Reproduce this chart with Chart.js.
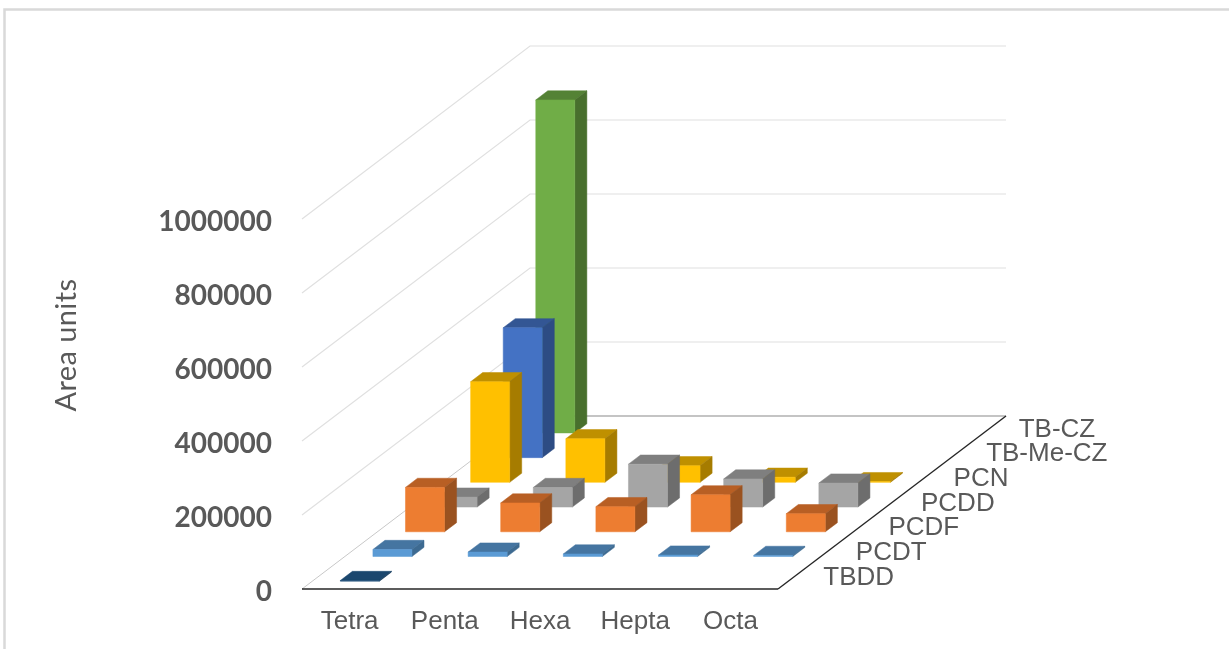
<!DOCTYPE html>
<html>
<head>
<meta charset="utf-8">
<title>Area units by homologue group</title>
<script src="https://cdn.jsdelivr.net/npm/chart.js@4/dist/chart.umd.js"></script>
<style>
  html, body { margin: 0; padding: 0; background: #fff; overflow: hidden; }
  #wrap { width: 1229px; height: 649px; }
</style>
</head>
<body>
<div id="wrap"><canvas id="chart3d" width="1229" height="649"></canvas></div>
<script>
const groups = ['Tetra', 'Penta', 'Hexa', 'Hepta', 'Octa'];
const seriesNames = ['TBDD', 'PCDT', 'PCDF', 'PCDD', 'PCN', 'TB-Me-CZ', 'TB-CZ'];

// one array per series, front row first; null means no bar in that slot
const tbdd = [2000, null, null, null, null];
const pcdt = [19000, 12000, 7000, 4000, 3000];
const pcdf = [120000, 78000, 68000, 100000, 49000];
const pcdd = [27000, 53000, 116000, 76000, 65000];
const pcn = [272000, 118000, 45000, 14000, 2000];
const tbMeCz = [351000, null, null, null, null];
const tbCz = [900000, null, null, null, null];
const seriesValues = [tbdd, pcdt, pcdf, pcdd, pcn, tbMeCz, tbCz];

const frontColors = ['#1f4e79', '#5b9bd5', '#ed7d31', '#a5a5a5', '#ffc000', '#4472c4', '#70ad47'];
const topColors = ['#1b476e', '#4575a1', '#b85f24', '#7f7f7f', '#bf9000', '#335694', '#548235'];
const sideColors = ['#163b5c', '#3d6a91', '#9a5220', '#6d6d6d', '#a67c00', '#2d4c84', '#486f2d'];

// oblique projection of the floor: how far one series row shifts a point
const ROW_DX = 228 / seriesNames.length;
const ROW_DY = -173 / seriesNames.length;
const BAR_DEPTH = 0.37; // bar depth as a share of a row

function poly(ctx, pts, color) {
  ctx.beginPath();
  pts.forEach((p, i) => (i ? ctx.lineTo(p[0], p[1]) : ctx.moveTo(p[0], p[1])));
  ctx.closePath();
  ctx.fillStyle = color;
  ctx.fill();
  ctx.strokeStyle = color;
  ctx.lineWidth = 0.5;
  ctx.stroke();
}

function line(ctx, pts, color, width) {
  ctx.beginPath();
  pts.forEach((p, i) => (i ? ctx.lineTo(p[0], p[1]) : ctx.moveTo(p[0], p[1])));
  ctx.strokeStyle = color;
  ctx.lineWidth = width;
  ctx.stroke();
}

const wallsPlugin = {
  id: 'walls',
  beforeDatasetsDraw(chart) {
    const { ctx, chartArea: a, scales } = chart;
    const n = seriesNames.length;
    const dx = ROW_DX * n, dy = ROW_DY * n;
    const base = scales.y.getPixelForValue(0);
    ctx.save();

    // outer frame
    line(ctx, [[4.5, 649], [4.5, 9.5], [1229, 9.5]], '#d9d9d9', 2.5);

    // gridlines run up the left wall and along the back wall
    scales.y.ticks.forEach(t => {
      const y = scales.y.getPixelForValue(t.value);
      if (t.value === 0) return;
      line(ctx, [[a.left, y], [a.left + dx, y + dy], [a.right + dx, y + dy]], '#e0e0e0', 1.2);
    });

    // floor outline
    line(ctx, [[a.left, base], [a.left + dx, base + dy]], '#c8c8c8', 1);
    line(ctx, [[a.left + dx, base + dy], [a.right + dx, base + dy]], '#b0b0b0', 1.4);
    line(ctx, [[a.right, base], [a.right + dx, base + dy]], '#262626', 1.4);
    line(ctx, [[a.left, base], [a.right, base]], '#262626', 1.6);
    ctx.restore();
  },
  afterDatasetsDraw(chart) {
    const { ctx, chartArea: a, scales } = chart;
    const base = scales.y.getPixelForValue(0);
    ctx.save();

    // rows are painted back to front so nearer bars cover farther ones
    for (let d = seriesNames.length - 1; d >= 0; d--) {
      const meta = chart.getDatasetMeta(d);
      const off = d + 0.5 - BAR_DEPTH / 2;
      const ox = off * ROW_DX, oy = off * ROW_DY;
      const bx = BAR_DEPTH * ROW_DX, by = BAR_DEPTH * ROW_DY;
      meta.data.forEach((el, k) => {
        if (seriesValues[d][k] === null) return;
        const w = el.width / 2;
        const l = el.x - w + ox, r = el.x + w + ox;
        const t = el.y + oy, b = el.base + oy;
        poly(ctx, [[l, t], [r, t], [r + bx, t + by], [l + bx, t + by]], topColors[d]);
        poly(ctx, [[r, t], [r + bx, t + by], [r + bx, b + by], [r, b]], sideColors[d]);
        poly(ctx, [[l, t], [r, t], [r, b], [l, b]], frontColors[d]);
      });
    }

    // series names follow the right edge of the floor
    ctx.fillStyle = '#595959';
    ctx.font = '26px "Liberation Sans"';
    ctx.textAlign = 'left';
    ctx.textBaseline = 'middle';
    seriesNames.forEach((name, d) => {
      ctx.fillText(name, a.right + (d + 0.5) * ROW_DX + 29, base + (d + 0.5) * ROW_DY + 1);
    });

    // value axis title
    ctx.translate(67, 345);
    ctx.rotate(-Math.PI / 2);
    ctx.textAlign = 'center';
    ctx.letterSpacing = '0.4px';
    ctx.font = '29px Lato';
    ctx.fillText('Area units', 0, 0);
    ctx.restore();
  }
};

new Chart(document.getElementById('chart3d'), {
  type: 'bar',
  data: {
    labels: groups,
    datasets: seriesNames.map((name, d) => ({
      label: name,
      data: seriesValues[d],
      backgroundColor: 'rgba(0,0,0,0)',
      borderWidth: 0,
      grouped: false,
      barPercentage: 0.41,
      categoryPercentage: 1
    }))
  },
  options: {
    responsive: false,
    animation: false,
    layout: { padding: { left: 60, right: 451, top: 219, bottom: 15 } },
    plugins: { legend: { display: false }, tooltip: { enabled: false } },
    scales: {
      x: {
        afterFit(scale) { scale.height = 45; },
        grid: { display: false, drawTicks: false },
        border: { display: false },
        ticks: {
          color: '#595959',
          font: { family: '"Liberation Sans"', size: 26 },
          padding: 17,
          maxRotation: 0
        }
      },
      y: {
        min: 0,
        max: 1000000,
        afterFit(scale) { scale.width = 242; },
        grid: { display: false, drawTicks: false },
        border: { display: false },
        ticks: {
          stepSize: 200000,
          color: '#595959',
          // the blank first line nudges each label a little below its tick
          font: { family: 'Lato', size: 28, weight: 'bold', lineHeight: 0.18 },
          padding: 30,
          callback: v => ['', String(v)]
        }
      }
    }
  },
  plugins: [wallsPlugin]
});
</script>
</body>
</html>
